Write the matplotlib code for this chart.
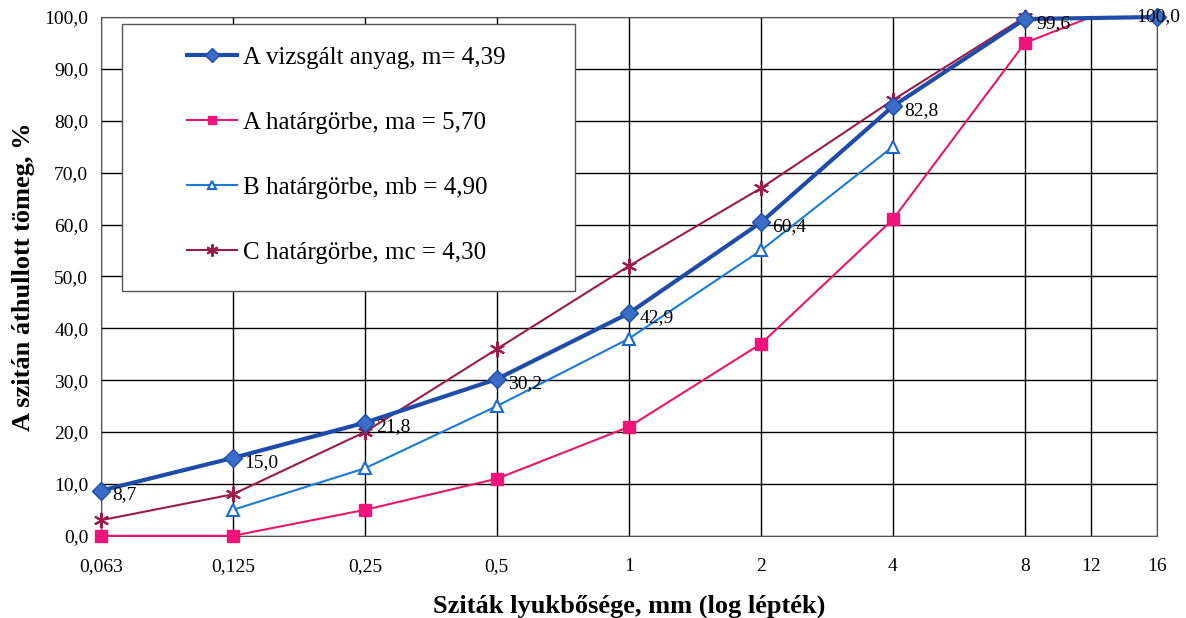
import matplotlib.pyplot as plt
import matplotlib.lines as mlines
from matplotlib.patches import Rectangle
import numpy as np

plt.rcParams['font.family'] = ['Liberation Serif', 'DejaVu Serif']

# sieve sizes (log scale, 12 sits halfway between 8 and 16 on the original)
sieve_labels = ["0,063", "0,125", "0,25", "0,5", "1", "2", "4", "8", "12", "16"]
sieve_pos = [0, 1, 2, 3, 4, 5, 6, 7, 7.5, 8]

# A vizsgalt anyag
a_pos = [0, 1, 2, 3, 4, 5, 6, 7, 8]
a_val = [8.7, 15.0, 21.8, 30.2, 42.9, 60.4, 82.8, 99.6, 100.0]
# A hatargorbe
ha_pos = [0, 1, 2, 3, 4, 5, 6, 7, 7.5]
ha_val = [0, 0, 5, 11, 21, 37, 61, 95, 100]
ha_mark = [0, 1, 2, 3, 4, 5, 6, 7]
# B hatargorbe
hb_pos = [1, 2, 3, 4, 5, 6]
hb_val = [5, 13, 25, 38, 55, 75]
# C hatargorbe
hc_pos = [0, 1, 2, 3, 4, 5, 6, 7]
hc_val = [3, 8, 20, 36, 52, 67, 84, 100]

labels = ["A vizsgált anyag, m= 4,39", "A határgörbe, ma = 5,70",
          "B határgörbe, mb = 4,90", "C határgörbe, mc = 4,30"]

f = plt.figure(figsize=(11.86, 6.18), dpi=100)
ax = f.add_axes([0.085, 0.133, 0.8905, 0.8395])

pink = "#E8176B"
ax.plot(ha_pos, ha_val, color=pink, lw=1.5, zorder=3, clip_on=False)
ax.plot(ha_mark, [ha_val[i] for i in ha_mark], ls="none", marker="s", ms=8,
        color="#F0147A", zorder=4, clip_on=False)
lb, = ax.plot(hb_pos, hb_val, color="#1A7AD8", lw=1.5, marker="^", ms=8,
              mfc="white", mec="#1A6AD0", mew=1.5, zorder=3, clip_on=False)
lc, = ax.plot(hc_pos, hc_val, color="#9B1B4B", lw=1.5, marker=(6, 2, 0), ms=11,
              mew=1.5, zorder=3, clip_on=False)
la, = ax.plot(a_pos, a_val, color="#1F4CA8", lw=3, marker="D", ms=9,
              mfc="#3A6CC8", mec="#1F4CA8", zorder=5, clip_on=False)

for x, y in zip(a_pos, a_val):
    txt = f"{y:.1f}".replace(".", ",")
    if x == 8:
        ax.annotate(txt, (x, y), xytext=(-15, 0), textcoords="offset points",
                    fontsize=14, va="center", ha="left", zorder=6, annotation_clip=False)
    else:
        ax.annotate(txt, (x, y), xytext=(8, -3), textcoords="offset points",
                    fontsize=14, va="center", ha="left", zorder=6)

ax.set_xlim(0, 8)
ax.set_ylim(0, 100)
ax.set_xticks(sieve_pos)
ax.set_xticklabels(sieve_labels)
ax.set_yticks(np.arange(0, 101, 10))
ax.set_yticklabels([f"{v:.1f}".replace(".", ",") for v in np.arange(0, 101, 10)])
ax.tick_params(labelsize=14, length=0)
ax.tick_params(axis="x", pad=16)
ax.tick_params(axis="y", pad=9)
ax.grid(True, color="black", lw=1)
ax.set_axisbelow(True)
for s in ax.spines.values():
    s.set_color("#555555")

ax.set_xlabel("Sziták lyukbősége, mm (log lépték)", fontsize=19, fontweight="bold", labelpad=14)
ax.set_ylabel("A szitán áthullott tömeg, %", fontsize=19, fontweight="bold")
ax.yaxis.set_label_coords(-0.062, 0.5)

# legend box
ax.add_patch(Rectangle((0.0199, 0.472), 0.4291, 0.5145, transform=ax.transAxes,
                       facecolor="white", edgecolor="#555555", lw=1, zorder=6))
pink_h = mlines.Line2D([], [], color=pink, lw=1.5, marker="s", ms=8,
                       mfc="#F0147A", mec="#F0147A")
leg = ax.legend([la, pink_h, lb, lc], labels,
                loc="upper left", bbox_to_anchor=(0.0814, 0.944), fontsize=18,
                frameon=False, borderpad=0, labelspacing=1.7, handlelength=2.0,
                handletextpad=0.25, markerscale=0.8, borderaxespad=0)
leg.set_zorder(7)

f.savefig("out.png", dpi=100)
